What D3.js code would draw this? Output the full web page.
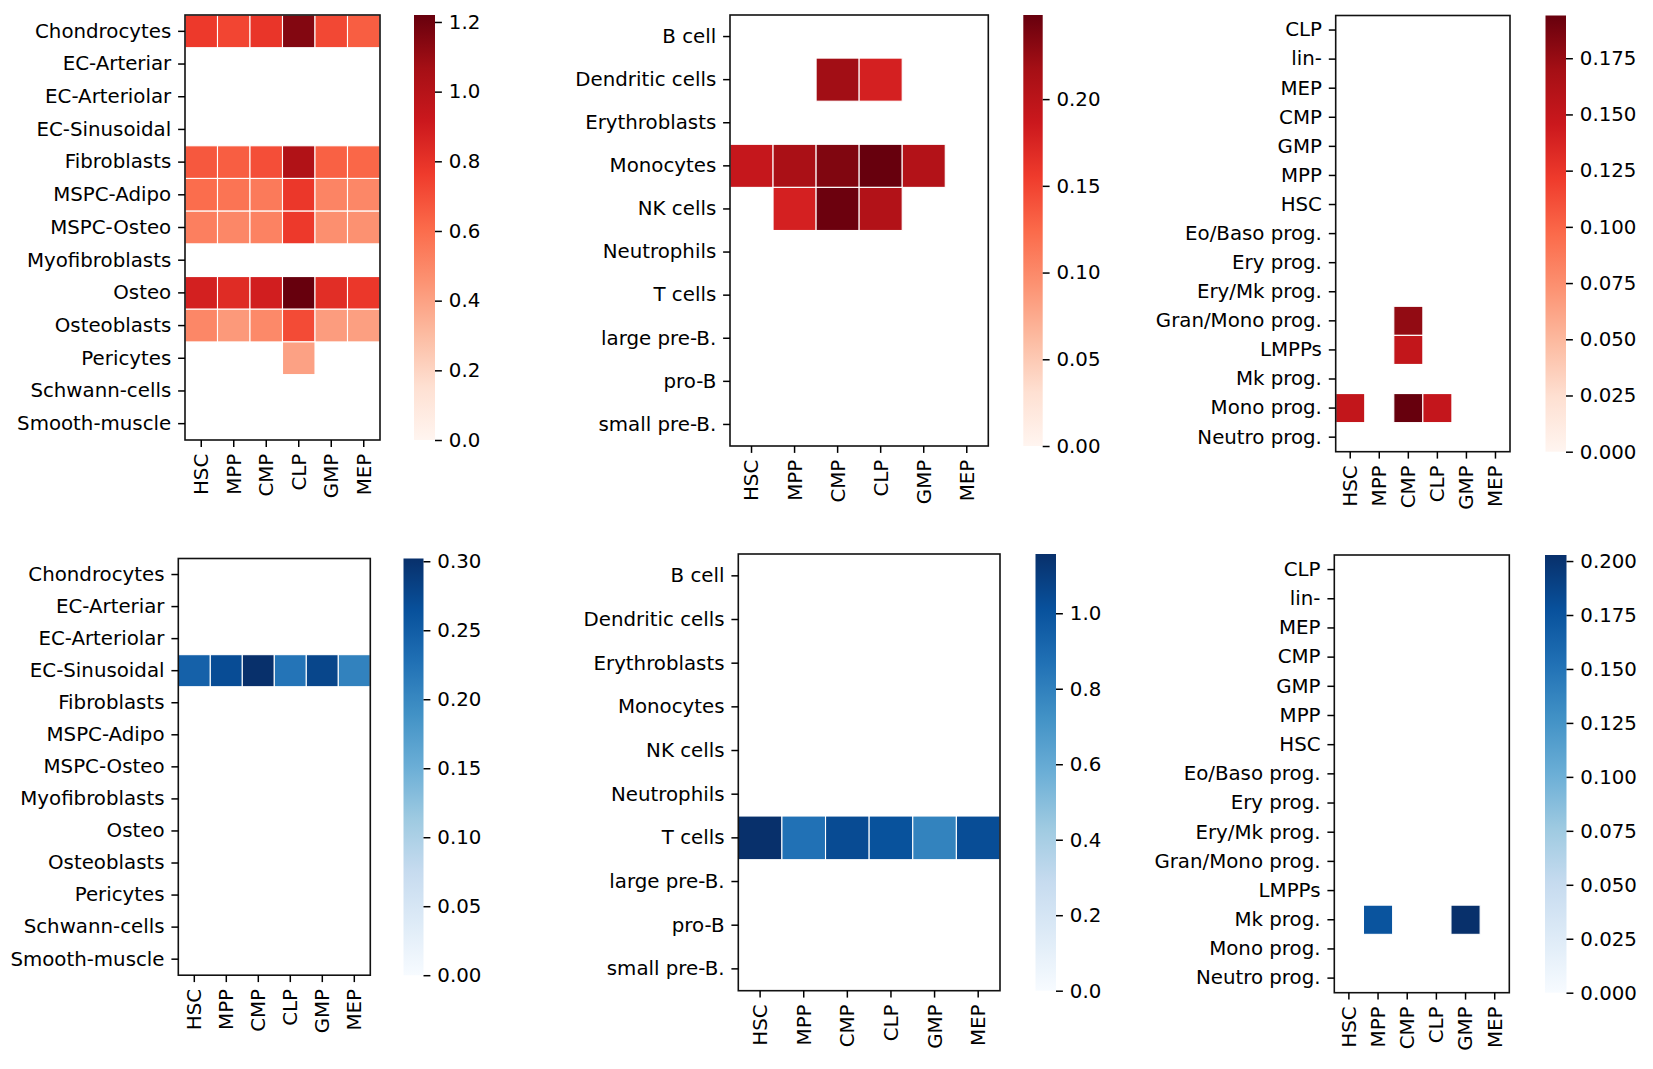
<!DOCTYPE html>
<html>
<head>
<meta charset="utf-8">
<script src="https://cdn.jsdelivr.net/npm/d3@7"></script>
<style>
  html, body { margin: 0; padding: 0; background: #fff; }
  svg { display: block; }
  text { font-family: "DejaVu Sans", sans-serif; fill: #000; }
</style>
</head>
<body>
<svg id="chart" width="1653" height="1069"></svg>
<script>
// ---------------- DATA ----------------
const progenitorColumns = ["HSC", "MPP", "CMP", "CLP", "GMP", "MEP"];

const stromalCells = ["Chondrocytes", "EC-Arteriar", "EC-Arteriolar", "EC-Sinusoidal", "Fibroblasts",
  "MSPC-Adipo", "MSPC-Osteo", "Myofibroblasts", "Osteo", "Osteoblasts", "Pericytes",
  "Schwann-cells", "Smooth-muscle"];

const immuneCells = ["B cell", "Dendritic cells", "Erythroblasts", "Monocytes", "NK cells",
  "Neutrophils", "T cells", "large pre-B.", "pro-B", "small pre-B."];

const hspcCells = ["CLP", "lin-", "MEP", "CMP", "GMP", "MPP", "HSC", "Eo/Baso prog.", "Ery prog.",
  "Ery/Mk prog.", "Gran/Mono prog.", "LMPPs", "Mk prog.", "Mono prog.", "Neutro prog."];

const N = null;
const stromalRedValues = [
  [0.77, 0.73, 0.79, 1.15, 0.72, 0.65],
  [N, N, N, N, N, N],
  [N, N, N, N, N, N],
  [N, N, N, N, N, N],
  [0.67, 0.65, 0.70, 1.02, 0.64, 0.62],
  [0.60, 0.57, 0.55, 0.78, 0.51, 0.50],
  [0.53, 0.50, 0.52, 0.77, 0.47, 0.46],
  [N, N, N, N, N, N],
  [0.88, 0.83, 0.89, 1.22, 0.82, 0.78],
  [0.50, 0.43, 0.49, 0.71, 0.42, 0.41],
  [N, N, N, 0.40, N, N],
  [N, N, N, N, N, N],
  [N, N, N, N, N, N]
];

const immuneRedValues = [
  [N, N, N, N, N, N],
  [N, N, 0.219, 0.179, N, N],
  [N, N, N, N, N, N],
  [0.191, 0.213, 0.236, 0.2485, 0.206, N],
  [N, 0.179, 0.246, 0.207, N, N],
  [N, N, N, N, N, N],
  [N, N, N, N, N, N],
  [N, N, N, N, N, N],
  [N, N, N, N, N, N],
  [N, N, N, N, N, N]
];

const hspcRedValues = [
  [N, N, N, N, N, N],
  [N, N, N, N, N, N],
  [N, N, N, N, N, N],
  [N, N, N, N, N, N],
  [N, N, N, N, N, N],
  [N, N, N, N, N, N],
  [N, N, N, N, N, N],
  [N, N, N, N, N, N],
  [N, N, N, N, N, N],
  [N, N, N, N, N, N],
  [N, N, 0.177, N, N, N],
  [N, N, 0.151, N, N, N],
  [N, N, N, N, N, N],
  [0.151, N, 0.194, 0.150, N, N],
  [N, N, N, N, N, N]
];

const stromalBlueValues = [
  [N, N, N, N, N, N],
  [N, N, N, N, N, N],
  [N, N, N, N, N, N],
  [0.245, 0.270, 0.302, 0.223, 0.277, 0.207],
  [N, N, N, N, N, N],
  [N, N, N, N, N, N],
  [N, N, N, N, N, N],
  [N, N, N, N, N, N],
  [N, N, N, N, N, N],
  [N, N, N, N, N, N],
  [N, N, N, N, N, N],
  [N, N, N, N, N, N],
  [N, N, N, N, N, N]
];

const immuneBlueValues = [
  [N, N, N, N, N, N],
  [N, N, N, N, N, N],
  [N, N, N, N, N, N],
  [N, N, N, N, N, N],
  [N, N, N, N, N, N],
  [N, N, N, N, N, N],
  [1.157, 0.87, 1.04, 1.01, 0.79, 1.03],
  [N, N, N, N, N, N],
  [N, N, N, N, N, N],
  [N, N, N, N, N, N]
];

const hspcBlueValues = [
  [N, N, N, N, N, N],
  [N, N, N, N, N, N],
  [N, N, N, N, N, N],
  [N, N, N, N, N, N],
  [N, N, N, N, N, N],
  [N, N, N, N, N, N],
  [N, N, N, N, N, N],
  [N, N, N, N, N, N],
  [N, N, N, N, N, N],
  [N, N, N, N, N, N],
  [N, N, N, N, N, N],
  [N, N, N, N, N, N],
  [N, 0.175, N, N, 0.2028, N],
  [N, N, N, N, N, N],
  [N, N, N, N, N, N]
];

const ticksStromalRed = [0.0, 0.2, 0.4, 0.6, 0.8, 1.0, 1.2];
const ticksImmuneRed = [0.00, 0.05, 0.10, 0.15, 0.20];
const ticksHspcRed = [0.000, 0.025, 0.050, 0.075, 0.100, 0.125, 0.150, 0.175];
const ticksStromalBlue = [0.00, 0.05, 0.10, 0.15, 0.20, 0.25, 0.30];
const ticksImmuneBlue = [0.0, 0.2, 0.4, 0.6, 0.8, 1.0];
const ticksHspcBlue = [0.000, 0.025, 0.050, 0.075, 0.100, 0.125, 0.150, 0.175, 0.200];

// matplotlib colormaps (ColorBrewer 9-class, linear interpolation)
const redsStops = ["#fff5f0", "#fee0d2", "#fcbba1", "#fc9272", "#fb6a4a", "#ef3b2c", "#cb181d", "#a50f15", "#67000d"];
const bluesStops = ["#f7fbff", "#deebf7", "#c6dbef", "#9ecae1", "#6baed6", "#4292c6", "#2171b5", "#08519c", "#08306b"];

// ---------------- LAYOUT ----------------
const panels = [
  { rows: stromalCells, values: stromalRedValues, stops: redsStops, ticks: ticksStromalRed, fmt: ".1f",
    heat: [185, 15, 380, 440], cbar: [414, 435] },
  { rows: immuneCells, values: immuneRedValues, stops: redsStops, ticks: ticksImmuneRed, fmt: ".2f",
    heat: [730, 15, 988.3, 446], cbar: [1023.3, 1042.7] },
  { rows: hspcCells, values: hspcRedValues, stops: redsStops, ticks: ticksHspcRed, fmt: ".3f",
    heat: [1335.7, 15.5, 1510, 451.7], cbar: [1545.5, 1566] },
  { rows: stromalCells, values: stromalBlueValues, stops: bluesStops, ticks: ticksStromalBlue, fmt: ".2f",
    heat: [178.3, 558.5, 370.3, 975.2], cbar: [403.5, 423.5] },
  { rows: immuneCells, values: immuneBlueValues, stops: bluesStops, ticks: ticksImmuneBlue, fmt: ".1f",
    heat: [738.3, 554, 1000, 990.7], cbar: [1035.5, 1056] },
  { rows: hspcCells, values: hspcBlueValues, stops: bluesStops, ticks: ticksHspcBlue, fmt: ".3f",
    heat: [1334.3, 555, 1509.3, 992.7], cbar: [1545, 1566.5] }
];

const FONT = 19.8;
const TICK = 6.9;
const PAD = 6.9;
const svg = d3.select("#chart");
const defs = svg.append("defs");

panels.forEach((p, pi) => {
  const [x0, y0, x1, y1] = p.heat;
  const x = d3.scaleBand().domain(progenitorColumns).range([x0, x1]).padding(0);
  const y = d3.scaleBand().domain(p.rows).range([y0, y1]).padding(0);
  const vmax = d3.max(p.values.flat().filter(v => v != null));
  const color = d3.scaleLinear()
    .domain(p.stops.map((_, i) => vmax * i / (p.stops.length - 1)))
    .range(p.stops)
    .interpolate(d3.interpolateRgb)
    .clamp(true);

  const g = svg.append("g");

  const cells = [];
  p.values.forEach((row, ri) => row.forEach((v, ci) => {
    if (v != null) cells.push({ r: p.rows[ri], c: progenitorColumns[ci], v });
  }));

  g.selectAll("rect.cell").data(cells).join("rect")
    .attr("class", "cell")
    .attr("x", d => x(d.c))
    .attr("y", d => y(d.r))
    .attr("width", x.bandwidth())
    .attr("height", y.bandwidth())
    .attr("fill", d => color(d.v))
    .attr("stroke", "#fff")
    .attr("stroke-width", 1.1);

  // frame
  g.append("rect")
    .attr("x", x0).attr("y", y0)
    .attr("width", x1 - x0).attr("height", y1 - y0)
    .attr("fill", "none").attr("stroke", "#111").attr("stroke-width", 1.6);

  // y axis
  const yAxis = g.append("g").attr("transform", `translate(${x0},0)`)
    .call(d3.axisLeft(y).tickSize(TICK).tickPadding(PAD));
  yAxis.select(".domain").remove();
  yAxis.selectAll(".tick line").attr("stroke", "#000").attr("stroke-width", 1.5);
  yAxis.selectAll(".tick text").style("font-size", FONT + "px").style("font-family", "DejaVu Sans");

  // x axis
  const xAxis = g.append("g").attr("transform", `translate(0,${y1})`)
    .call(d3.axisBottom(x).tickSize(TICK).tickPadding(PAD));
  xAxis.select(".domain").remove();
  xAxis.selectAll(".tick line").attr("stroke", "#000").attr("stroke-width", 1.5);
  xAxis.selectAll(".tick text")
    .style("font-size", FONT + "px").style("font-family", "DejaVu Sans")
    .attr("transform", "rotate(-90)")
    .attr("x", -(TICK + PAD)).attr("y", 0).attr("dy", "0.35em")
    .style("text-anchor", "end");

  // colorbar
  const [cx0, cx1] = p.cbar;
  const gradId = "grad" + pi;
  const grad = defs.append("linearGradient").attr("id", gradId)
    .attr("x1", 0).attr("y1", 1).attr("x2", 0).attr("y2", 0);
  p.stops.forEach((s, i) => {
    grad.append("stop").attr("offset", i / (p.stops.length - 1)).attr("stop-color", s);
  });
  g.append("rect")
    .attr("x", cx0).attr("y", y0)
    .attr("width", cx1 - cx0).attr("height", y1 - y0)
    .attr("fill", `url(#${gradId})`);

  const cscale = d3.scaleLinear().domain([0, vmax]).range([y1, y0]);
  const cAxis = g.append("g").attr("transform", `translate(${cx1},0)`)
    .call(d3.axisRight(cscale).tickValues(p.ticks).tickFormat(d3.format(p.fmt))
      .tickSize(TICK).tickPadding(PAD));
  cAxis.select(".domain").remove();
  cAxis.selectAll(".tick line").attr("stroke", "#000").attr("stroke-width", 1.5);
  cAxis.selectAll(".tick text").style("font-size", FONT + "px").style("font-family", "DejaVu Sans");
});
</script>
</body>
</html>
